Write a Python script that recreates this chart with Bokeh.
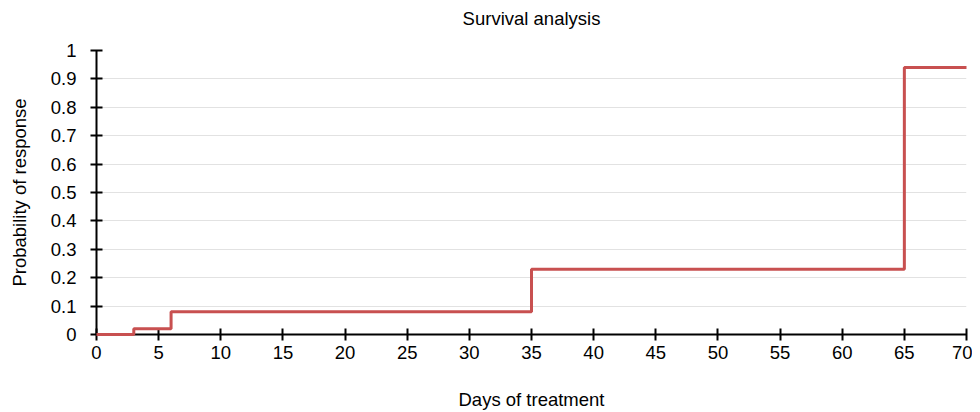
from bokeh.plotting import figure
from bokeh.models import Range1d, FixedTicker, LinearAxis
from bokeh.embed import file_html
from bokeh.resources import INLINE

days = [0, 3, 6, 35, 65, 70]
prob = [0.0, 0.02, 0.08, 0.23, 0.94, 0.94]
x_ticks = list(range(0, 75, 5))
y_ticks = [0, 0.1, 0.2, 0.3, 0.4, 0.5, 0.6, 0.7, 0.8, 0.9, 1]
title_text = "Survival analysis"

FONT = "Liberation Sans"
FS = "18.5px"

p = figure(width=972, height=412, output_backend="svg", toolbar_location=None,
           x_range=Range1d(0, 70), y_range=Range1d(0, 1), title=title_text,
           min_border_left=96, min_border_right=6, min_border_top=50, min_border_bottom=78)

p.title.align = "center"
p.title.text_font = FONT
p.title.text_font_size = FS
p.title.text_font_style = "normal"
p.title.text_color = "#000000"
p.title.standoff = 4

xax = p.below[0]
yax = p.left[0]

# invisible spacer between the title and the plot frame (white ticks, empty labels)
spacer = LinearAxis(ticker=FixedTicker(ticks=x_ticks, minor_ticks=[]), axis_line_color=None,
                    major_tick_in=0, major_tick_out=20, minor_tick_out=0,
                    major_tick_line_color="#ffffff", minor_tick_line_color=None,
                    major_label_text_font_size="0px",
                    major_label_overrides={t: "" for t in x_ticks})
p.add_layout(spacer, "above")

r = p.step(days, prob, mode="after", line_color="#c85050", line_width=3)
r.level = "overlay"

p.outline_line_color = None
p.xgrid.grid_line_color = None
p.ygrid.grid_line_color = "#e2e2e2"
p.ygrid.grid_line_width = 1

xax.ticker = FixedTicker(ticks=x_ticks)
yax.ticker = FixedTicker(ticks=y_ticks)
yax.major_label_overrides = {0: "0", 1: "1"}

for ax in (xax, yax):
    ax.axis_line_color = "#000000"
    ax.axis_line_width = 2
    ax.major_tick_line_color = "#000000"
    ax.major_tick_line_width = 2
    ax.major_tick_in = 6
    ax.major_tick_out = 6
    ax.minor_tick_line_color = None
    ax.major_label_text_font = FONT
    ax.major_label_text_font_size = FS
    ax.major_label_text_color = "#000000"
    ax.axis_label_text_font = FONT
    ax.axis_label_text_font_size = FS
    ax.axis_label_text_font_style = "normal"
    ax.axis_label_text_color = "#000000"

xax.axis_label = "Days of treatment"
yax.axis_label = "Probability of response"
xax.major_label_standoff = 5
yax.major_label_standoff = 14
xax.axis_label_standoff = 27
yax.axis_label_standoff = 18

open("out.html", "w").write(file_html(p, INLINE))
